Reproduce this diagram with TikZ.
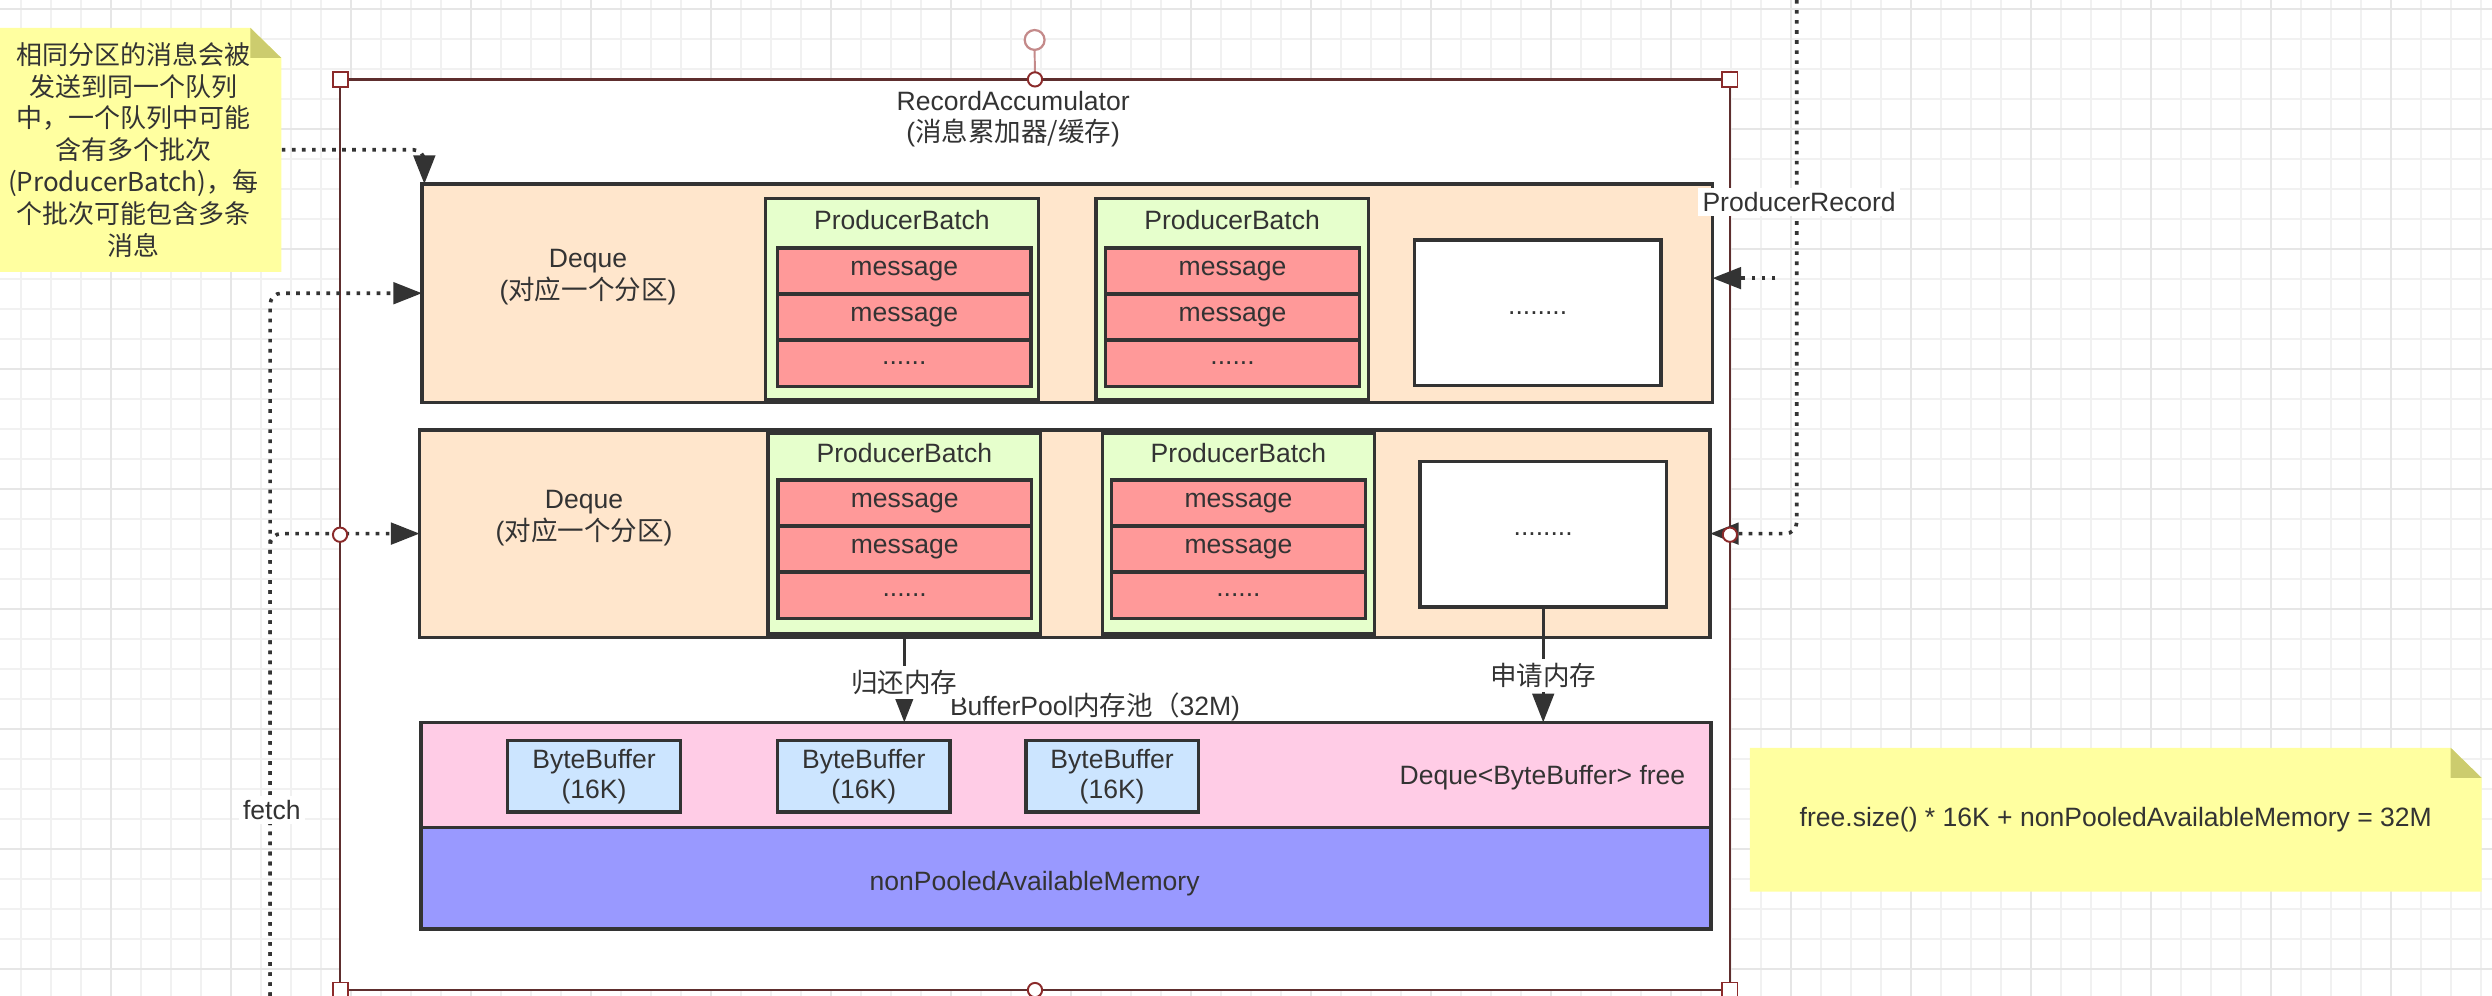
\documentclass[tikz,border=0pt]{standalone}
\usepackage{fontspec}
\setmainfont{Liberation Sans}
\newfontfamily\cjk{Noto Sans CJK SC}
\usetikzlibrary{arrows.meta, positioning}

\definecolor{ink}{HTML}{333333}
\definecolor{dequefill}{HTML}{FFE6CC}
\definecolor{batchfill}{HTML}{E6FFCC}
\definecolor{msgfill}{HTML}{FF9999}
\definecolor{poolfill}{HTML}{FFCCE6}
\definecolor{buffill}{HTML}{CCE5FF}
\definecolor{memfill}{HTML}{9999FF}
\definecolor{notefill}{HTML}{FFFFA0}
\definecolor{notefold}{HTML}{CCCC6E}
\definecolor{selred}{HTML}{8B2A2A}
\definecolor{accline}{HTML}{5E2E2E}
\definecolor{rotred}{HTML}{C48A8A}
\definecolor{gridminor}{HTML}{F1F1F1}
\definecolor{gridmajor}{HTML}{E6E6E6}

\begin{document}
\begin{tikzpicture}[
  font=\fontsize{9.5}{11.4}\selectfont, text=ink,
  box/.style={rectangle, draw=ink, line width=1.2pt, fill=#1, outer sep=0pt},
  deque/.style={box=dequefill, minimum width=16.24cm},
  batch/.style={box=batchfill, minimum width=3.43cm, minimum height=2.53cm},
  msg/.style={box=msgfill, minimum width=3.19cm, minimum height=0.58cm, inner sep=0pt},
  slot/.style={box=white, minimum width=3.1cm, minimum height=1.83cm},
  buf/.style={box=buffill, minimum width=2.17cm, minimum height=0.9cm, align=center,
              inner sep=0pt, font=\fontsize{9.5}{10.6}\selectfont},
  txt/.style={align=center, inner sep=1pt},
  elbl/.style={fill=white, inner sep=1.5pt},
  note/.style={rectangle, inner sep=0pt, align=center, path picture={
      \fill[notefill] (path picture bounding box.south west) -- (path picture bounding box.north west)
        -- ([xshift=-0.39cm]path picture bounding box.north east)
        -- ([yshift=-0.38cm]path picture bounding box.north east)
        -- (path picture bounding box.south east) -- cycle;
      \fill[notefold] ([xshift=-0.39cm]path picture bounding box.north east)
        -- ([xshift=-0.39cm, yshift=-0.38cm]path picture bounding box.north east)
        -- ([yshift=-0.38cm]path picture bounding box.north east) -- cycle;}},
  arr/.style={-{Triangle[length=0.36cm, width=0.27cm]}, draw=ink, line width=1.1pt},
  dotarr/.style={arr, line width=1.3pt, dash pattern=on 1.3pt off 2.3pt},
  hsq/.style={rectangle, draw=selred, fill=white, line width=0.7pt, minimum size=0.19cm, inner sep=0pt},
  hcirc/.style={circle, draw=selred, fill=white, line width=0.7pt, minimum size=0.18cm, inner sep=0pt}
]

% ---- canvas ----
\useasboundingbox (0,0) rectangle (31.36,-12.534);
\begin{scope}
  \clip (0,0) rectangle (31.36,-12.534);
  \draw[gridminor, line width=0.5pt, step=0.37752, shift={(0.2643,-0.1133)}] (-1,1) grid (32,-14);
  \draw[gridmajor, line width=0.6pt, step=1.51008, shift={(1.3968,-0.1133)}] (-2,1) grid (32,-14);
\end{scope}

% ---- RecordAccumulator ----
\node[rectangle, draw=accline, line width=1pt, fill=white, outer sep=0pt,
      minimum width=17.49cm, minimum height=11.46cm] (acc) at (13.0245,-6.729) {};
\node[txt] (acc-t) at (12.75,-1.50) {RecordAccumulator\\({\cjk 消息累加器/缓存})};

% ---- Deque 1 ----
\node[deque, minimum height=2.75cm] (dq1) at (13.43,-3.69) {};
\node[txt] (dq1-t) at (7.40,-3.49) {Deque\\({\cjk 对应一个分区})};
\node[batch] (pb11) at (11.35,-3.765) {};
\node[txt]   (pb11-t) at (11.35,-2.77) {ProducerBatch};
\node[msg]   (m111) at (11.38,-3.41) {message};
\node[msg]   (m112) at (11.38,-3.99) {message};
\node[msg]   (m113) at (11.38,-4.57) {......};
\node[batch] (pb12) at (15.505,-3.765) {};
\node[txt]   (pb12-t) at (15.505,-2.77) {ProducerBatch};
\node[msg]   (m121) at (15.51,-3.41) {message};
\node[msg]   (m122) at (15.51,-3.99) {message};
\node[msg]   (m123) at (15.51,-4.57) {......};
\node[slot]  (sl1) at (19.35,-3.935) {........};

% ---- Deque 2 ----
\node[deque, minimum height=2.61cm] (dq2) at (13.40,-6.715) {};
\node[txt] (dq2-t) at (7.35,-6.52) {Deque\\({\cjk 对应一个分区})};
\node[batch] (pb21) at (11.38,-6.715) {};
\node[txt]   (pb21-t) at (11.38,-5.70) {ProducerBatch};
\node[msg]   (m211) at (11.385,-6.33) {message};
\node[msg]   (m212) at (11.385,-6.91) {message};
\node[msg]   (m213) at (11.385,-7.49) {......};
\node[batch] (pb22) at (15.585,-6.715) {};
\node[txt]   (pb22-t) at (15.585,-5.70) {ProducerBatch};
\node[msg]   (m221) at (15.585,-6.33) {message};
\node[msg]   (m222) at (15.585,-6.91) {message};
\node[msg]   (m223) at (15.585,-7.49) {......};
\node[slot]  (sl2) at (19.42,-6.725) {........};

% ---- BufferPool ----
\node[box=poolfill, minimum width=16.23cm, minimum height=1.32cm] (pool) at (13.415,-9.75) {};
\node[box=memfill, minimum width=16.23cm, minimum height=1.28cm] (mem) at (13.415,-11.05) {};
\node[txt] (pool-t) at (13.78,-8.90) {BufferPool{\cjk 内存池（}32M)};
\node[buf] (bb1) at (7.475,-9.77) {ByteBuffer\\(16K)};
\node[buf] (bb2) at (10.87,-9.77) {ByteBuffer\\(16K)};
\node[buf] (bb3) at (13.995,-9.77) {ByteBuffer\\(16K)};
\node[txt] (pool-q) at (19.41,-9.79) {Deque<ByteBuffer> free};
\node[txt] (mem-t) at (13.02,-11.12) {nonPooledAvailableMemory};

\draw[arr] (pb21.south) -- node[elbl, pos=0.55] (ret-l) {\cjk 归还内存} (pb21.south |- pool.north);
\draw[arr] (sl2.south) -- node[elbl, pos=0.59] (req-l) {\cjk 申请内存} (sl2.south |- pool.north);

% ---- fetch ----
\coordinate (fetch-end) at (3.40,-12.534);
\draw[dotarr, rounded corners=4pt] (fetch-end) |- (dq1.west);
\draw[dotarr, rounded corners=4pt] (fetch-end) |- (dq2.west);
\node[elbl] (fetch-l) at (3.42,-10.19) {fetch};

% ---- ProducerRecord ----
\coordinate (rec-top) at (22.61,0);
\coordinate (rec-in) at (22.34,-3.50);
\draw[dotarr, rounded corners=4pt] (rec-top) |- (dq2.east);
\draw[dotarr] (rec-in) -- (rec-in -| dq1.east);
\node[elbl] (rec-l) at (22.64,-2.54) {ProducerRecord};

% ---- notes ----
\node[note, minimum width=3.73cm, minimum height=3.07cm, font=\cjk\fontsize{9.3}{11.4}\selectfont]
  (note1) at (1.675,-1.885)
  {相同分区的消息会被\\发送到同一个队列\\中，一个队列中可能\\含有多个批次\\(ProducerBatch)，每\\个批次可能包含多条\\消息};
\draw[dotarr, rounded corners=4pt] (note1.east) -| ([xshift=0.03cm]dq1.north west);
\node[note, minimum width=9.21cm, minimum height=1.81cm] (note2) at (26.625,-10.315)
  {free.size() * 16K + nonPooledAvailableMemory = 32M};

% ---- selection handles ----
\node[circle, draw=rotred, fill=white, line width=0.8pt, minimum size=0.25cm, inner sep=0pt] (rot) at (13.02,-0.503) {};
\draw[rotred, line width=0.7pt] (rot.south) -- (acc.north);
\node[hsq]   (h-nw) at (acc.north west) {};
\node[hsq]   (h-ne) at (acc.north east) {};
\node[hsq]   (h-sw) at (acc.south west) {};
\node[hsq]   (h-se) at (acc.south east) {};
\node[hcirc] (h-n)  at (acc.north) {};
\node[hcirc] (h-s)  at (acc.south) {};
\node[hcirc] (h-w)  at (acc.west) {};
\node[hcirc] (h-e)  at (acc.east) {};

\end{tikzpicture}
\end{document}
